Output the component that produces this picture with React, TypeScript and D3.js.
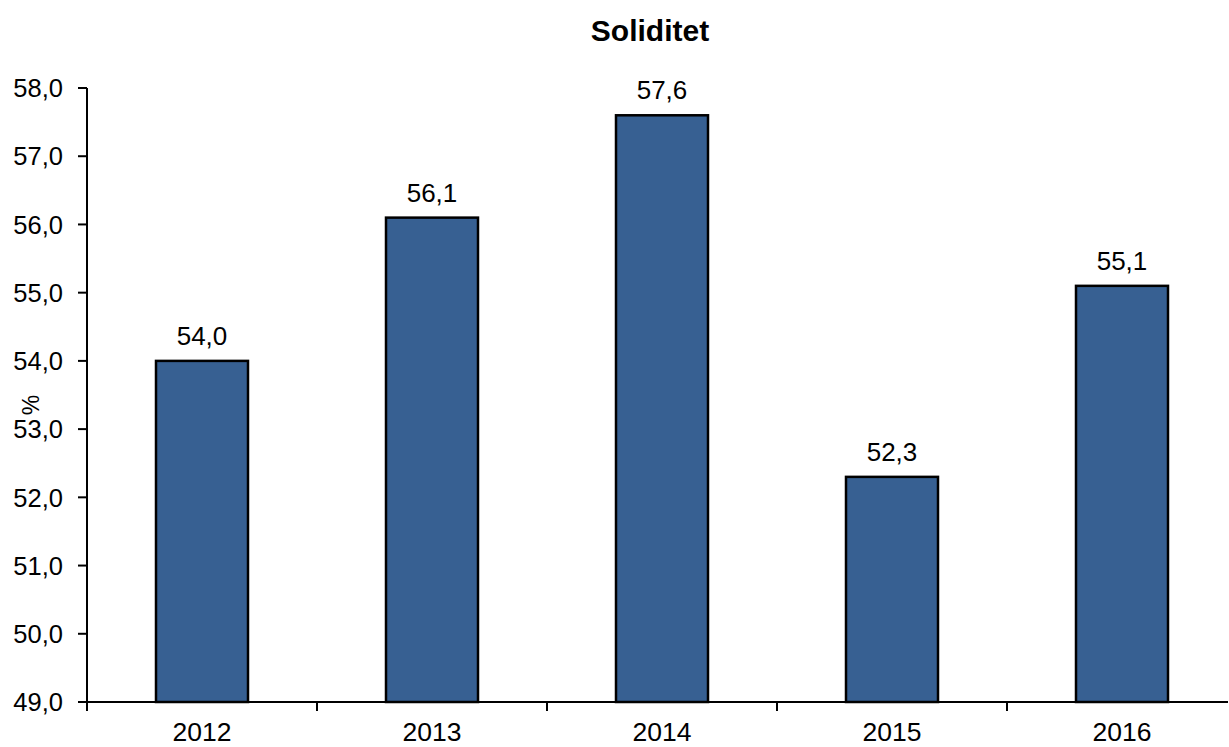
import { useRef, useEffect } from "react";
import * as d3 from "d3";

const years = ["2012", "2013", "2014", "2015", "2016"];
const values = [54.0, 56.1, 57.6, 52.3, 55.1];
const yTicks = [49, 50, 51, 52, 53, 54, 55, 56, 57, 58];

const fmt = (v: number) => v.toFixed(1).replace(".", ",");

export default function App() {
  const ref = useRef<SVGSVGElement>(null);

  useEffect(() => {
    const svg = d3.select(ref.current);
    const width = 1229;
    const height = 747;
    const font = "Liberation Sans, Arial, sans-serif";

    svg.selectAll("*").remove();
    svg.attr("width", width).attr("height", height);

    // category bands are 230px wide, the last one runs off the right edge
    const x = d3.scaleBand().domain(years).range([87, 1237]).paddingInner(0).paddingOuter(0);
    const y = d3.scaleLinear().domain([49, 58]).range([702, 88]);

    const barW = 92;

    // bars
    svg
      .append("g")
      .selectAll("rect")
      .data(values)
      .enter()
      .append("rect")
      .attr("x", (d, i) => x(years[i])! + x.bandwidth() / 2 - barW / 2)
      .attr("y", (d) => y(d))
      .attr("width", barW)
      .attr("height", (d) => y(49) - y(d))
      .attr("fill", "#376092")
      .attr("stroke", "#000")
      .attr("stroke-width", 2.5);

    // value labels
    svg
      .append("g")
      .selectAll("text")
      .data(values)
      .enter()
      .append("text")
      .attr("x", (d, i) => x(years[i])! + x.bandwidth() / 2)
      .attr("y", (d) => y(d) - 16)
      .attr("text-anchor", "middle")
      .style("font-family", font)
      .style("font-size", "26px")
      .style("fill", "#000")
      .text((d) => fmt(d));

    // y axis
    const yAxis = svg.append("g");
    yAxis
      .append("line")
      .attr("x1", 87)
      .attr("x2", 87)
      .attr("y1", y(58))
      .attr("y2", y(49))
      .attr("stroke", "#000")
      .attr("stroke-width", 2);
    yTicks.forEach((t) => {
      yAxis
        .append("line")
        .attr("x1", 78)
        .attr("x2", 87)
        .attr("y1", y(t))
        .attr("y2", y(t))
        .attr("stroke", "#000")
        .attr("stroke-width", 2);
      yAxis
        .append("text")
        .attr("x", 63)
        .attr("y", y(t))
        .attr("dy", "0.36em")
        .attr("text-anchor", "end")
        .style("font-family", font)
        .style("font-size", "25.5px")
        .style("fill", "#000")
        .text(fmt(t));
    });

    // x axis
    const xAxis = svg.append("g");
    xAxis
      .append("line")
      .attr("x1", 78)
      .attr("x2", 1228)
      .attr("y1", y(49))
      .attr("y2", y(49))
      .attr("stroke", "#000")
      .attr("stroke-width", 2);
    years.forEach((yr) => {
      const x0 = x(yr)!;
      xAxis
        .append("line")
        .attr("x1", x0)
        .attr("x2", x0)
        .attr("y1", y(49))
        .attr("y2", y(49) + 9)
        .attr("stroke", "#000")
        .attr("stroke-width", 2);
      xAxis
        .append("text")
        .attr("x", x0 + x.bandwidth() / 2)
        .attr("y", 741)
        .attr("text-anchor", "middle")
        .style("font-family", font)
        .style("font-size", "26.5px")
        .style("fill", "#000")
        .text(yr);
    });

    // title
    svg
      .append("text")
      .attr("x", 650)
      .attr("y", 41)
      .attr("text-anchor", "middle")
      .style("font-family", font)
      .style("font-size", "30px")
      .style("font-weight", "bold")
      .style("fill", "#000")
      .text("Soliditet");

    // y label
    svg
      .append("text")
      .attr("transform", "translate(39, 405) rotate(-90)")
      .attr("text-anchor", "middle")
      .style("font-family", font)
      .style("font-size", "23px")
      .style("fill", "#000")
      .text("%");
  }, []);

  return (
    <div style={{ position: "absolute", left: 0, top: 0 }}>
      <svg ref={ref}></svg>
    </div>
  );
}
